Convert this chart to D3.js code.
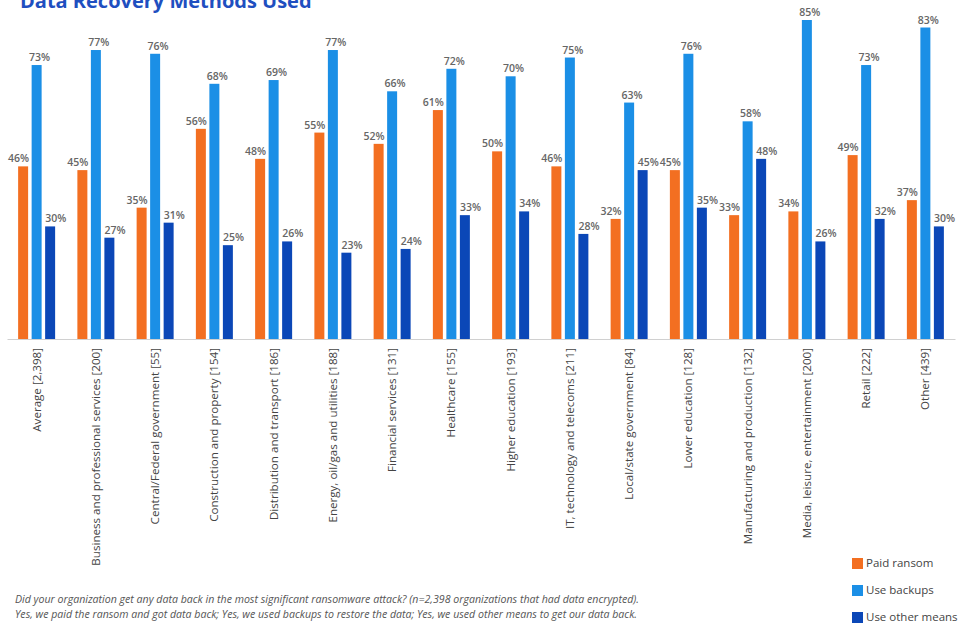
<!DOCTYPE html>
<html><head><meta charset="utf-8">
<script src="https://cdn.jsdelivr.net/npm/d3@7"></script>
<style>
body{margin:0;background:#fff;}
svg{display:block;font-family:"Open Sans",sans-serif;}
</style></head>
<body><svg id="c" width="960" height="625"></svg>
<script>
const categories = ["Average [2,398]","Business and professional services [200]","Central/Federal government [55]","Construction and property [154]","Distribution and transport [186]","Energy, oil/gas and utilities [188]","Financial services [131]","Healthcare [155]","Higher education [193]","IT, technology and telecoms [211]","Local/state government [84]","Lower education [128]","Manufacturing and production [132]","Media, leisure, entertainment [200]","Retail [222]","Other [439]"];
const paidRansom = [46,45,35,56,48,55,52,61,50,46,32,45,33,34,49,37];
const useBackups = [73,77,76,68,69,77,66,72,70,75,63,76,58,85,73,83];
const useOther   = [30,27,31,25,26,23,24,33,34,28,45,35,48,26,32,30];
const seriesNames = ["Paid ransom","Use backups","Use other means"];
const colors = ["#f36f21","#1b8fe6","#0b47b7"];
const title = "Data Recovery Methods Used";
const footnotes = ["Did your organization get any data back in the most significant ransomware attack? (n=2,398 organizations that had data encrypted).",
"Yes, we paid the ransom and got data back; Yes, we used backups to restore the data; Yes, we used other means to get our data back."];

const series = [paidRansom, useBackups, useOther];
const svg = d3.select("#c");

svg.append("text").attr("x",20).attr("y",8).text(title)
  .attr("font-size",20).attr("font-weight",700).attr("fill","#1f4fc0");

const x0 = d3.scaleBand().domain(categories).range([7,955]);
const x1 = d3.scaleBand().domain(seriesNames).range([-18.5,18.5]).paddingInner(0.26);
const y = d3.scaleLinear().domain([0,85]).range([339,20]);

const g = svg.append("g");
categories.forEach((c,i)=>{
  const cx = x0(c)+x0.bandwidth()/2;
  seriesNames.forEach((s,j)=>{
    const v = series[j][i];
    const bx = cx + x1(s);
    g.append("rect").attr("x",bx).attr("y",y(v)).attr("width",x1.bandwidth())
      .attr("height",y(0)-y(v)).attr("fill",colors[j]);
    const t = g.append("text").text(v+"%").attr("y",y(v)-4)
      .attr("font-size",10.5).attr("font-weight",600).attr("fill","#666");
    if(j===0) t.attr("x",bx+x1.bandwidth()+1).attr("text-anchor","end");
    else if(j===1) t.attr("x",bx+x1.bandwidth()/2+3).attr("text-anchor","middle");
    else t.attr("x",bx).attr("text-anchor","start");
  });
});

const ax = svg.append("g").attr("transform","translate(0,339)")
  .call(d3.axisBottom(x0).tickSize(0));
ax.select(".domain").attr("stroke","#d0d0d0");
ax.selectAll("text").attr("transform","rotate(-90)").attr("text-anchor","end")
  .attr("x",-9).attr("y",0).attr("dy","0.35em")
  .attr("font-size",11.6).attr("fill","#444").attr("font-family","Open Sans, sans-serif");

const leg = svg.append("g");
seriesNames.forEach((s,j)=>{
  const yy = 563 + j*27;
  leg.append("rect").attr("x",852).attr("y",yy-5).attr("width",11).attr("height",11).attr("fill",colors[j]);
  leg.append("text").attr("x",866).attr("y",yy).attr("dy","0.35em").text(s)
    .attr("font-size",11.5).attr("fill","#444");
});

footnotes.forEach((f,i)=>{
  svg.append("text").attr("x",15).attr("y",603+i*15).text(f)
    .attr("font-size",10.6).attr("font-style","italic").attr("fill","#555");
});
</script></body></html>
